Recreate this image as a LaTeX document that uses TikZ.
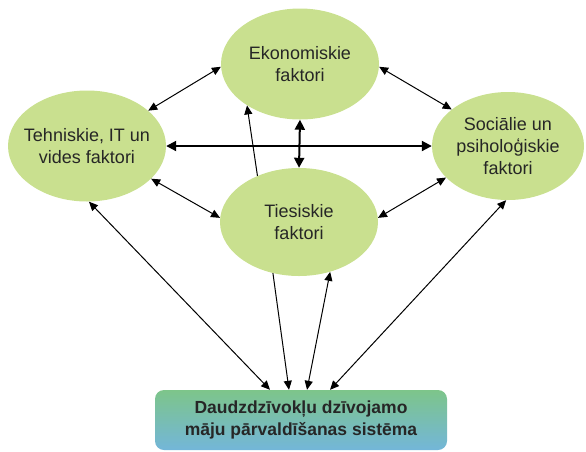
\documentclass[tikz,border=0pt]{standalone}
\usepackage{fontspec}
\setmainfont{Liberation Sans}
\usepackage{xcolor}
\usetikzlibrary{positioning,arrows.meta,shapes.geometric}

\definecolor{factorgreen}{RGB}{201,224,143}
\definecolor{systop}{RGB}{125,197,138}
\definecolor{sysbottom}{RGB}{115,182,217}

\begin{document}
\begin{tikzpicture}[
    x=1pt,y=-1pt,
    font=\fontsize{18}{22}\selectfont,
    factor/.style={ellipse,fill=factorgreen,minimum width=158pt,
      minimum height=111pt,align=center,inner xsep=-20pt,inner ysep=0pt,
      text=black!85},
    system/.style={rectangle,rounded corners=9pt,top color=systop,
      bottom color=sysbottom,minimum width=292pt,minimum height=60pt,
      align=center,font=\fontsize{17.5}{22}\selectfont\bfseries,
      text=black!85},
    link/.style={{Triangle[length=9pt,width=8pt]}-{Triangle[length=9pt,width=8pt]},
      line width=1pt},
    strong/.style={{Triangle[length=10pt,width=10pt]}-{Triangle[length=10pt,width=10pt]},
      line width=2pt},
    oneway/.style={-{Triangle[length=9pt,width=8pt]},line width=1pt}
]
\useasboundingbox (0,0) rectangle (586,451);

\node[factor] (econ) at (300,64) {Ekonomiskie\\faktori};
\node[factor] (tech) at (87,146) {Tehniskie, IT un\\vides faktori};
\node[factor,minimum width=152pt,minimum height=108pt] (soc) at (508,146)
  {Sociālie un\\psiholoģiskie\\faktori};
\node[factor,minimum height=108pt] (law) at (299,222) {Tiesiskie\\faktori};
\node[system] (sys) at (301,420) {Daudzdzīvokļu dzīvojamo\\māju pārvaldīšanas sistēma};

% between the factors
\draw[link] (tech.30) -- (econ.182);
\draw[link] (econ.358) -- (soc.147);
\draw[strong] (tech.east) -- (soc.west);
\draw[strong] (econ.south) -- (law.north);
\draw[link] (tech.333) -- (law.177);
\draw[link] (soc.207) -- (law.3);
\draw[oneway] (law.132) -- (econ.218);

% factors and the system
\draw[link] (tech.272) -- ([xshift=-31pt]sys.north);
\draw[oneway] (law.243) -- ([xshift=-12pt]sys.north);
\draw[link] ([xshift=6pt]sys.north) -- (law.302);
\draw[link] (soc.268) -- ([xshift=29pt]sys.north);
\end{tikzpicture}
\end{document}
